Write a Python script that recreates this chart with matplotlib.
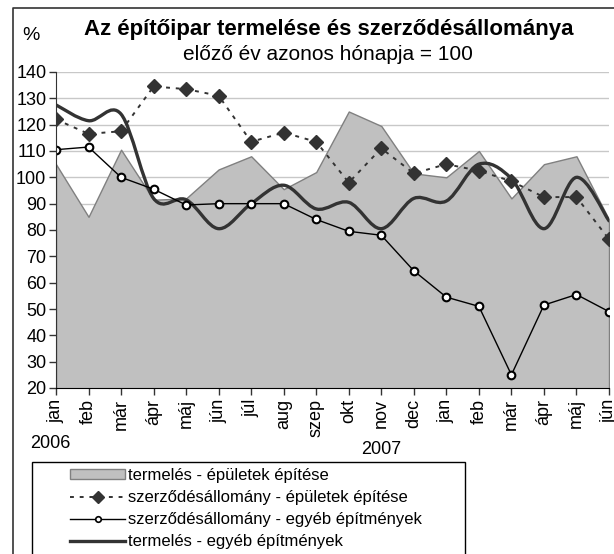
import numpy as np
import matplotlib
matplotlib.use('Agg')
import matplotlib.pyplot as plt
from matplotlib.path import Path
from matplotlib.patches import PathPatch, Patch, Rectangle
from matplotlib.lines import Line2D

plt.rcParams['font.family'] = ['Liberation Sans', 'DejaVu Sans']

# data (previous year same month = 100)
months = ['jan', 'feb', 'már', 'ápr', 'máj', 'jún', 'júl', 'aug', 'szep',
          'okt', 'nov', 'dec', 'jan', 'feb', 'már', 'ápr', 'máj', 'jún']
termeles_epuletek = [105, 85, 110.5, 91.5, 92, 103, 108, 95.5, 102,
                     125, 119.5, 101.5, 100, 110, 92, 105, 108, 84]
szerz_epuletek = [122, 116.5, 117.5, 134.5, 133.5, 131, 113.5, 117, 113.5,
                  98, 111, 101.5, 105, 102.5, 98.5, 92.5, 92.5, 76.5]
szerz_egyeb = [110.5, 111.5, 100, 95.5, 89.5, 90, 90, 90, 84,
               79.5, 78, 64.5, 54.5, 51, 25, 51.5, 55.5, 49]
termeles_egyeb = [127.5, 121.5, 124, 92, 91.5, 80.5, 90, 97, 88,
                  90.5, 80.5, 92, 91, 105, 99.5, 80.5, 100, 83.5]
years = ['2006', '2007']

labels = ['termelés - épületek építése',
          'szerződésállomány - épületek építése',
          'szerződésállomány - egyéb építmények',
          'termelés - egyéb építmények']


def smooth_path(xs, ys):
    # excel-like smoothed line: cubic bezier segments (catmull-rom control points)
    pts = np.column_stack([xs, ys]).astype(float)
    n = len(pts)
    verts = [pts[0]]
    codes = [Path.MOVETO]
    for i in range(n - 1):
        p0 = pts[i - 1] if i > 0 else pts[i]
        p1 = pts[i]
        p2 = pts[i + 1]
        p3 = pts[i + 2] if i + 2 < n else pts[i + 1]
        c1 = p1 + (p2 - p0) / 6.0
        c2 = p2 - (p3 - p1) / 6.0
        verts += [c1, c2, p2]
        codes += [Path.CURVE4] * 3
    return Path(verts, codes)


W, H = 614, 554
fig = plt.figure(figsize=(W / 100, H / 100), dpi=100)
ax = fig.add_axes([56 / W, 1 - 388 / H, (609 - 56) / W, (388 - 72) / H])

x = np.arange(len(months))

ax.fill_between(x, 0, termeles_epuletek, facecolor='#c0c0c0',
                edgecolor='#808080', linewidth=1.0, zorder=2)

thick = PathPatch(smooth_path(x, termeles_egyeb), facecolor='none',
                  edgecolor='#333333', linewidth=2.4, zorder=3,
                  capstyle='round', joinstyle='round')
ax.add_patch(thick)

ax.plot(x, szerz_egyeb, color='black', linewidth=1.0, marker='o',
        markersize=5.5, markerfacecolor='white', markeredgecolor='black',
        markeredgewidth=1.5, zorder=4)
ax.plot(x, szerz_epuletek, color='#333333', linewidth=1.4,
        linestyle=(0, (2, 3)), marker='D', markersize=7.5,
        markerfacecolor='#333333', markeredgecolor='#333333', zorder=5)

ax.set_xlim(0, len(months) - 1)
ax.set_ylim(20, 140)
ax.set_yticks(range(20, 141, 10))
ax.set_xticks(x)
ax.set_xticklabels(months, rotation=90)
ax.yaxis.grid(True, color='#c8c8c8', linewidth=1.0, zorder=0)
ax.set_axisbelow(True)
for s in ['top', 'right']:
    ax.spines[s].set_visible(False)
ax.spines['left'].set_color('#333333')
ax.spines['bottom'].set_color('black')
ax.spines['left'].set_zorder(6)
ax.spines['bottom'].set_zorder(6)
ax.tick_params(axis='both', direction='out', length=5, width=1,
               color='#333333', labelsize=13, pad=3)
ax.tick_params(axis='y', pad=2)

# titles
fig.text(329 / W, 1 - 30 / H, 'Az építőipar termelése és szerződésállománya',
         ha='center', va='center', fontsize=16, fontweight='bold')
fig.text(328 / W, 1 - 54 / H, 'előző év azonos hónapja = 100',
         ha='center', va='center', fontsize=15)
fig.text(31 / W, 1 - 36 / H, '%', ha='center', va='center', fontsize=14)

fig.text(50 / W, 1 - 443 / H, years[0], ha='center', va='center', fontsize=13)
fig.text(381 / W, 1 - 450 / H, years[1], ha='center', va='center', fontsize=13)

# outer chart frame (only left and top edges are visible in the crop)
fig.add_artist(Line2D([12.5 / W, 12.5 / W, 1], [0, 1 - 8 / H, 1 - 8 / H],
                      transform=fig.transFigure, color='#333333', linewidth=1.2))

# legend
fig.add_artist(Rectangle((32 / W, -20 / H), (465 - 32) / W, (554 - 462 + 20) / H,
                         transform=fig.transFigure, facecolor='white',
                         edgecolor='black', linewidth=1.0))
handles = [
    Patch(facecolor='#c0c0c0', edgecolor='#808080', linewidth=1.0),
    Line2D([], [], color='#333333', linewidth=1.4, linestyle=(0, (2, 3)),
           marker='D', markersize=6.5, markerfacecolor='#333333',
           markeredgecolor='#333333'),
    Line2D([], [], color='black', linewidth=1.0, marker='o', markersize=4,
           markerfacecolor='white', markeredgecolor='black', markeredgewidth=1.2),
    Line2D([], [], color='#333333', linewidth=2.4),
]
fig.legend(handles, labels, loc='upper left',
           bbox_to_anchor=(70 / W, 1 - 468 / H), frameon=False,
           fontsize=12, handlelength=3.3, handleheight=0.55,
           handletextpad=0.15, labelspacing=0.42, borderpad=0,
           borderaxespad=0, numpoints=1)

fig.savefig('out.png', dpi=100)
